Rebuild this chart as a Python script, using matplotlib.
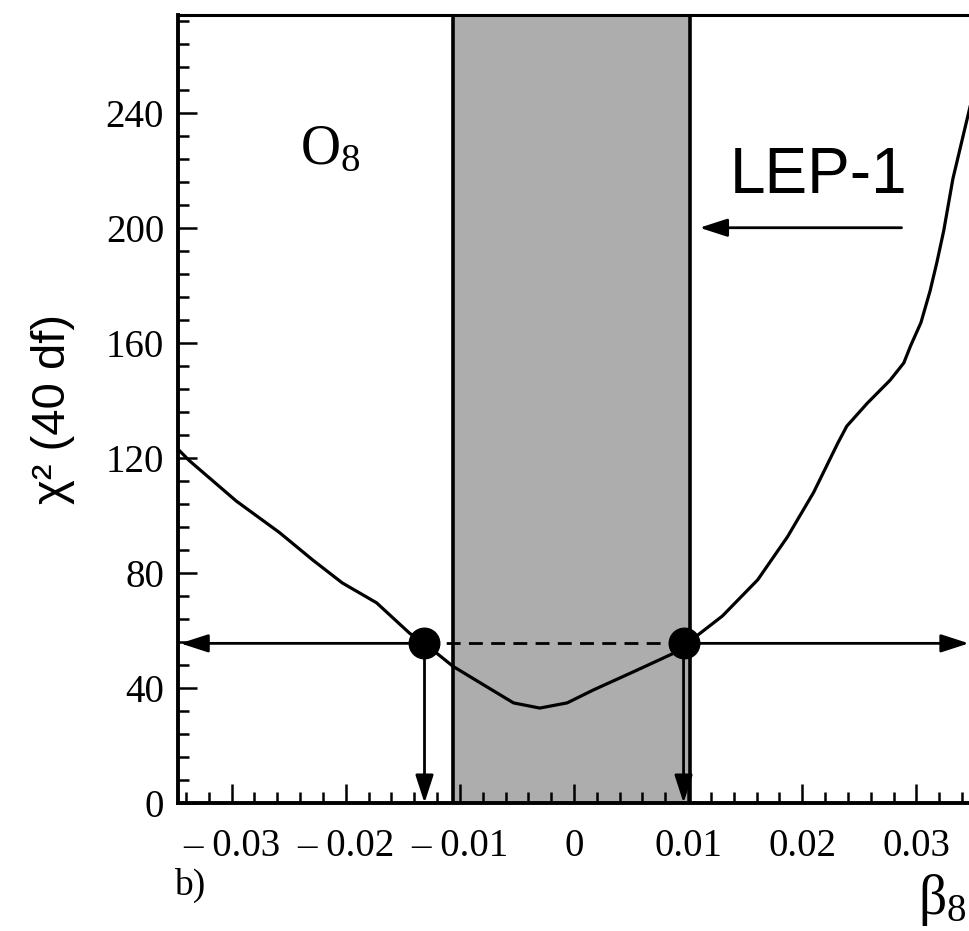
import matplotlib
matplotlib.use("Agg")
import matplotlib.pyplot as plt
import numpy as np

plt.rcParams['font.family'] = ['Liberation Serif', 'DejaVu Serif']
plt.rcParams['mathtext.fontset'] = 'custom'
plt.rcParams['mathtext.rm'] = 'Liberation Serif'
plt.rcParams['mathtext.it'] = 'Liberation Serif'

# chi^2 scan versus beta_8
beta8 = [-0.0347, -0.0337, -0.0296, -0.0258, -0.0229, -0.0203, -0.0173, -0.0144,
         -0.0131, -0.0106, -0.0076, -0.0053, -0.0030, -0.0006, 0.0017, 0.0052,
         0.0087, 0.0104, 0.0130, 0.0161, 0.0187, 0.0210, 0.0231, 0.0239, 0.0257,
         0.0277, 0.0289, 0.0295, 0.0304, 0.0312, 0.0318, 0.0324, 0.0332, 0.0341,
         0.0347]
chi2 = [123, 119, 105, 94, 84.5, 76.5, 69.6, 59,
        55.5, 47.5, 40.3, 34.8, 33, 34.8, 39.3, 45.6,
        52, 57, 65, 77.6, 92.5, 108, 125, 131, 139,
        147, 153, 159, 167, 178, 188, 199, 217, 232,
        242]

# LEP-1 allowed band and the chi^2 cut
lep1_band = [-0.0106, 0.0102]
chi2_cut = 55.5
limits = [-0.0131, 0.0096]

xticks = [-0.03, -0.02, -0.01, 0, 0.01, 0.02, 0.03]
xticklabels = ['\u2013 0.03', '\u2013 0.02', '\u2013 0.01', '0', '0.01', '0.02', '0.03']
yticks = [0, 40, 80, 120, 160, 200, 240]

xlo, xhi = -0.0347, 0.0347
ylo, yhi = 0, 274

fig = plt.figure(figsize=(9.7, 9.31), dpi=100)
ax = fig.add_axes([0.1835, 0.1375, 0.8165, 0.8465])

ax.axvspan(lep1_band[0], lep1_band[1], facecolor='#adadad', edgecolor='none', zorder=0)
for xb in lep1_band:
    ax.axvline(xb, color='black', lw=2.6, zorder=1)

ax.plot(beta8, chi2, color='black', lw=2.3, zorder=3, solid_joinstyle='round')

ax.plot(limits, [chi2_cut, chi2_cut], color='black', lw=2.0, ls=(0, (5, 3)), zorder=3)

arrow_kw = dict(arrowstyle='-|>,head_length=1.7,head_width=0.55', color='black',
                lw=2.0, shrinkA=0, shrinkB=0)
ax.annotate('', xy=(xlo + 0.0002, chi2_cut), xytext=(limits[0], chi2_cut),
            arrowprops=arrow_kw, zorder=4)
ax.annotate('', xy=(xhi - 0.0001, chi2_cut), xytext=(limits[1], chi2_cut),
            arrowprops=arrow_kw, zorder=4)
for xl in limits:
    ax.annotate('', xy=(xl, 0), xytext=(xl, chi2_cut), arrowprops=arrow_kw, zorder=4)

ax.plot(limits, [chi2_cut, chi2_cut], 'o', color='black', ms=22, zorder=5)

# LEP-1 label and its arrow
ax.text(0.0214, 218, 'LEP-1', family='Liberation Sans', fontsize=46,
        ha='center', va='center')
ax.annotate('', xy=(0.0110, 200), xytext=(0.0287, 200), arrowprops=arrow_kw)

ax.text(-0.0214, 227, r'O$_8$', fontsize=40, ha='center', va='center')

ax.set_xlim(xlo, xhi)
ax.set_ylim(ylo, yhi)
ax.set_xticks(xticks)
ax.set_xticklabels(xticklabels)
ax.set_xticks(np.arange(-0.034, 0.0345, 0.002), minor=True)
ax.set_yticks(yticks)
ax.set_yticks(np.arange(0, 274, 8), minor=True)

ax.tick_params(which='both', direction='in', width=1.8, labelsize=28)
ax.tick_params(which='major', length=14)
ax.tick_params(which='minor', length=8)
ax.tick_params(axis='x', pad=18)
ax.tick_params(axis='y', pad=10)

ax.spines['right'].set_visible(False)
for side in ['left', 'bottom']:
    ax.spines[side].set_linewidth(2.8)
ax.spines['top'].set_linewidth(2.2)

ax.set_ylabel('\u03c7\u00b2 (40 df)', family='Liberation Sans', fontsize=34, labelpad=22)

fig.text(0.195, 0.049, 'b)', fontsize=27, ha='center', va='center')
fig.text(0.972, 0.033, '\u03b2$_8$', fontsize=40, ha='center', va='center')

fig.savefig('out.png', dpi=100)
